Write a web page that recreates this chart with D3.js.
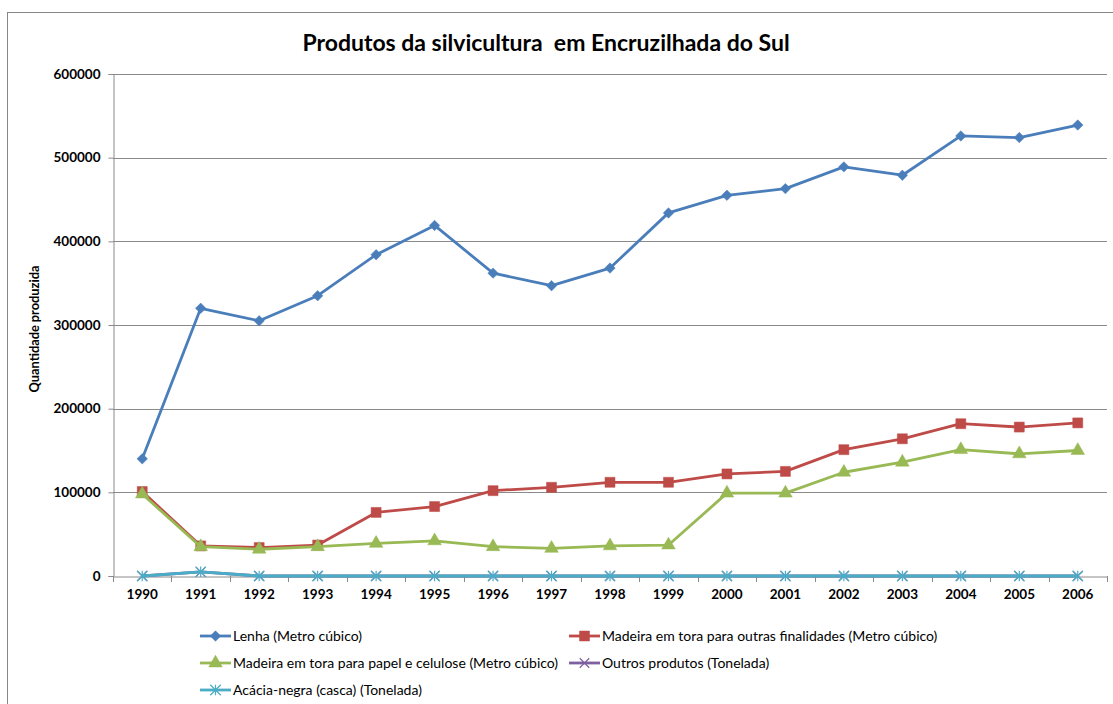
<!DOCTYPE html>
<html>
<head>
<meta charset="utf-8">
<script src="https://cdn.jsdelivr.net/npm/d3@7"></script>
<style>
  body{margin:0;background:#fff;}
  svg{display:block;}
</style>
</head>
<body>
<div id="chart"></div>
<script>
// data
var years = ['1990','1991','1992','1993','1994','1995','1996','1997','1998','1999','2000','2001','2002','2003','2004','2005','2006'];
var lenha   = [140000,320000,305000,335000,384000,419000,362000,347000,368000,434000,455000,463000,489000,479000,526000,524000,539000];
var outras  = [101000,36000,34000,37000,76000,83000,102000,106000,112000,112000,122000,125000,151000,164000,182000,178000,183000];
var papel   = [98000,35000,32000,35000,39000,42000,35000,33000,36000,37000,99000,99000,124000,136000,151000,146000,150000];
var outros  = [0,5000,0,0,0,0,0,0,0,0,0,0,0,0,0,0,0];   //hidden under the acácia line
var acacia  = [0,5000,0,0,0,0,0,0,0,0,0,0,0,0,0,0,0];
var seriesNames = ['Lenha (Metro cúbico)','Madeira em tora para outras finalidades (Metro cúbico)','Madeira em tora para papel e celulose (Metro cúbico)','Outros produtos (Tonelada)','Acácia-negra (casca) (Tonelada)'];
var yTicks = [0,100000,200000,300000,400000,500000,600000];

var W=1113, H=704;
var plot = {left:113, right:1107, top:74, bottom:576};

//Excel style marker shapes
var starSym = {draw:function(c,s){var r=Math.sqrt(s)/2; c.moveTo(-r,-r);c.lineTo(r,r);c.moveTo(-r,r);c.lineTo(r,-r);c.moveTo(0,-r);c.lineTo(0,r);}};
var xSym = {draw:function(c,s){var r=Math.sqrt(s)/2; c.moveTo(-r,-r);c.lineTo(r,r);c.moveTo(-r,r);c.lineTo(r,-r);}};
var diamondSym = {draw:function(c,s){var r=Math.sqrt(s)/2; c.moveTo(0,-r);c.lineTo(r,0);c.lineTo(0,r);c.lineTo(-r,0);c.closePath();}};

var series = [
  {name:seriesNames[0], values:lenha,  color:'#4A7EBB', sym:diamondSym,       size:110, fill:true},
  {name:seriesNames[1], values:outras, color:'#BE4B48', sym:d3.symbolSquare,  size:100, fill:true},
  {name:seriesNames[2], values:papel,  color:'#98B954', sym:d3.symbolTriangle,size:80, fill:true},
  {name:seriesNames[3], values:outros, color:'#7D60A0', sym:xSym,             size:90, fill:false},
  {name:seriesNames[4], values:acacia, color:'#4BACC6', sym:starSym,          size:110, fill:false}
];

var svg = d3.select('#chart').append('svg').attr('width',W).attr('height',H);

//Outer chart frame
svg.append('rect').attr('x',7.5).attr('y',12.5).attr('width',1200).attr('height',800)
   .attr('fill','#fff').attr('stroke','#878787').attr('stroke-width',1);

//Title (double space kept as in the original)
svg.append('text').attr('x',546).attr('y',51).attr('text-anchor','middle')
   .style('white-space','pre')
   .style('font-family','Lato, "Open Sans", sans-serif').style('font-size','23px').style('font-weight','bold')
   .attr('fill','#000').text('Produtos da silvicultura  em Encruzilhada do Sul');

var x = d3.scaleBand().domain(years).range([plot.left,plot.right]).paddingInner(0).paddingOuter(0);
var y = d3.scaleLinear().domain([0,600000]).range([plot.bottom,plot.top]);
var cx = function(i){return x(years[i])+x.bandwidth()/2;};

//Gridlines
svg.append('g').selectAll('line').data(yTicks.filter(function(d){return d>0;})).join('line')
   .attr('x1',plot.left).attr('x2',plot.right)
   .attr('y1',function(d){return Math.round(y(d))+0.5;}).attr('y2',function(d){return Math.round(y(d))+0.5;})
   .attr('stroke','#8a8a8a').attr('stroke-width',1);

//Y axis
var yAx = svg.append('g').attr('transform','translate('+(plot.left+0.5)+',0)')
   .call(d3.axisLeft(y).tickValues(yTicks).tickFormat(d3.format('d')).tickSizeOuter(0).tickSize(5).tickPadding(8));
yAx.selectAll('path,line').attr('stroke','#8a8a8a');
yAx.selectAll('text').style('font-family','Lato, sans-serif').style('font-size','13.5px').style('font-weight','bold').attr('fill','#000');

//X axis: labels centred in bands, ticks on band edges
var xAx = svg.append('g').attr('transform','translate(0,'+(plot.bottom+0.5)+')')
   .call(d3.axisBottom(x).tickSize(0).tickPadding(13));
xAx.select('.domain').attr('stroke','#8a8a8a');
xAx.selectAll('text').style('font-family','Lato, sans-serif').style('font-size','13.5px').style('font-weight','bold').attr('fill','#000');
svg.append('g').selectAll('line').data(years.concat(['end'])).join('line')
   .attr('x1',function(d){return Math.round(d==='end'?plot.right:x(d))+0.5;})
   .attr('x2',function(d){return Math.round(d==='end'?plot.right:x(d))+0.5;})
   .attr('y1',plot.bottom).attr('y2',plot.bottom+6).attr('stroke','#8a8a8a');

//Y axis title
svg.append('text').attr('transform','translate(39,329) rotate(-90)').attr('text-anchor','middle')
   .style('font-family','Lato, sans-serif').style('font-size','12.8px').style('font-weight','bold')
   .text('Quantidade produzida');

//Lines and markers
var line = d3.line().x(function(d,i){return cx(i);}).y(function(d){return y(d);});
series.forEach(function(s){
  var g = svg.append('g');
  g.append('path').datum(s.values).attr('d',line).attr('fill','none')
   .attr('stroke',s.color).attr('stroke-width',2.8).attr('stroke-linejoin','round');
  g.selectAll('path.m').data(s.values).join('path').attr('class','m')
   .attr('transform',function(d,i){return 'translate('+cx(i)+','+y(d)+')';})
   .attr('d',d3.symbol().type(s.sym).size(s.size))
   .attr('fill',s.fill?s.color:'none').attr('stroke',s.color).attr('stroke-width',s.fill?0.5:1.2);
});

//Legend
var legendPos = [[200,636],[569,636],[200,663],[569,663],[200,690]];
var lg = svg.append('g').selectAll('g').data(series).join('g')
   .attr('transform',function(d,i){return 'translate('+legendPos[i][0]+','+legendPos[i][1]+')';});
lg.append('line').attr('x1',0).attr('x2',31).attr('y1',0).attr('y2',0)
  .attr('stroke',function(d){return d.color;}).attr('stroke-width',2.8);
lg.append('path').attr('transform','translate(15.5,0)')
  .attr('d',function(d){return d3.symbol().type(d.sym).size(d.size)();})
  .attr('fill',function(d){return d.fill?d.color:'none';}).attr('stroke',function(d){return d.color;})
  .attr('stroke-width',function(d){return d.fill?0.5:1.2;});
lg.append('text').attr('x',33).attr('y',5)
  .style('font-family','Lato, sans-serif').style('font-size','14px').attr('fill','#000')
  .text(function(d){return d.name;});
</script>
</body>
</html>
